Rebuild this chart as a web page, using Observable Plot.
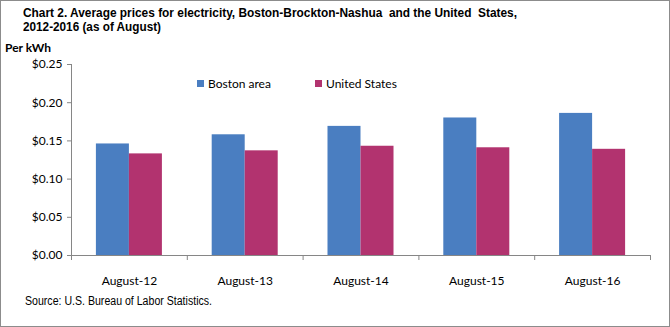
<!DOCTYPE html>
<html>
<head>
<meta charset="utf-8">
<script src="https://cdn.jsdelivr.net/npm/d3@7"></script>
<script src="https://cdn.jsdelivr.net/npm/@observablehq/plot@0.6"></script>
<style>
  html, body { margin: 0; padding: 0; background: #fff; }
  #wrap { position: relative; width: 670px; height: 327px; overflow: hidden; background: #fff; }
  #border { position: absolute; left: 0; top: 0; width: 668px; height: 325px; border: 1px solid #8c8c8c; pointer-events: none; }
  .narrow { font-family: "Liberation Sans Narrow", "Arial Narrow", "Liberation Sans", sans-serif; }
  .fit { position: absolute; white-space: nowrap; transform-origin: 0 0; color: #000; }
  #t1 { left: 23px; top: 6px; font-size: 12px; font-weight: bold; }
  #t2 { left: 23px; top: 20px; font-size: 12px; font-weight: bold; }
  #unit { position: absolute; left: 5px; top: 40px; font-family: Lato, "Open Sans", sans-serif; font-size: 12px; font-weight: bold; color: #000; }
  #source { left: 25px; top: 294px; font-size: 12px; }
  #legend { position: absolute; left: 0; top: 76px; font-family: Lato, "Open Sans", sans-serif; font-size: 12px; color: #000; }
  .sw { position: absolute; width: 7px; height: 7px; top: 4px; }
  .lt { position: absolute; top: 0; white-space: nowrap; }
  svg { position: absolute; left: 0; top: 0; }
</style>
</head>
<body>
<div id="wrap">
  <div id="t1" class="narrow fit" data-w="494">Chart 2. Average prices for electricity, Boston-Brockton-Nashua&nbsp; and the United&nbsp; States,</div>
  <div id="t2" class="narrow fit" data-w="138">2012-2016 (as of August)</div>
  <div id="unit">Per kWh</div>
  <div id="legend"></div>
  <div id="source" class="narrow fit" data-w="187">Source: U.S. Bureau of Labor Statistics.</div>
  <div id="border"></div>
</div>
<script>
const months = ["August-12", "August-13", "August-14", "August-15", "August-16"];
const seriesNames = ["Boston area", "United States"];
const bostonValues = [0.146, 0.158, 0.169, 0.180, 0.186];
const usValues = [0.133, 0.137, 0.143, 0.141, 0.139];
const yTicks = [0, 0.05, 0.10, 0.15, 0.20, 0.25];
const colors = ["#4A7EC1", "#B2336F"];

// category i occupies [i, i+1] on the x scale; each bar is barWidth wide, the pair centred
const barWidth = 0.285;
const data = [];
months.forEach((m, i) => {
  [bostonValues[i], usValues[i]].forEach((v, s) => {
    data.push({index: i, month: m, series: seriesNames[s], s, value: v});
  });
});
const labels = months.map((m, i) => ({index: i, month: m}));

const axisColor = "#868686";
const tickFont = "Lato, 'Open Sans', sans-serif";

const chart = Plot.plot({
  width: 670,
  height: 327,
  marginTop: 64,
  marginBottom: 72,
  marginLeft: 71,
  marginRight: 20,
  style: {fontFamily: tickFont, fontSize: "12px", color: "#000", background: "transparent"},
  x: {type: "linear", domain: [0, months.length], axis: null, label: null},
  y: {domain: [0, 0.25], axis: null, label: null},
  color: {domain: seriesNames, range: colors},
  marks: [
    Plot.rectY(data, {
      x1: d => d.index + 0.5 + (d.s - 1) * barWidth,
      x2: d => d.index + 0.5 + d.s * barWidth,
      y1: 0,
      y2: "value",
      fill: "series"
    }),
    Plot.ruleY([0], {stroke: axisColor}),
    Plot.ruleX([0], {stroke: axisColor}),
    Plot.axisX({ticks: d3.range(months.length + 1), tickFormat: () => "", tickSize: 5, stroke: axisColor, label: null}),
    Plot.text(labels, {x: d => d.index + 0.5, y: () => 0, text: "month", dy: 25.5, fill: "#000", stroke: "none", fontFamily: "Lato", fontWeight: 400, fontSize: 12}),
    Plot.axisY({ticks: yTicks, tickFormat: d3.format("$.2f"), tickSize: 4, tickPadding: 5, stroke: axisColor, fill: "#000", label: null})
  ]
});
document.getElementById("wrap").insertBefore(chart, document.getElementById("t1"));

const legend = document.getElementById("legend");
const legendX = [197, 315];
seriesNames.forEach((name, i) => {
  const sw = document.createElement("div");
  sw.className = "sw";
  sw.style.left = legendX[i] + "px";
  sw.style.background = colors[i];
  legend.appendChild(sw);
  const t = document.createElement("div");
  t.className = "lt";
  t.style.left = (legendX[i] + 11) + "px";
  t.textContent = name;
  legend.appendChild(t);
});

// fit narrow text to the reference width in case the condensed face is missing
document.querySelectorAll(".fit").forEach(el => {
  const target = +el.dataset.w;
  const w = el.getBoundingClientRect().width;
  if (w > 0) el.style.transform = `scaleX(${target / w})`;
});
</script>
</body>
</html>
